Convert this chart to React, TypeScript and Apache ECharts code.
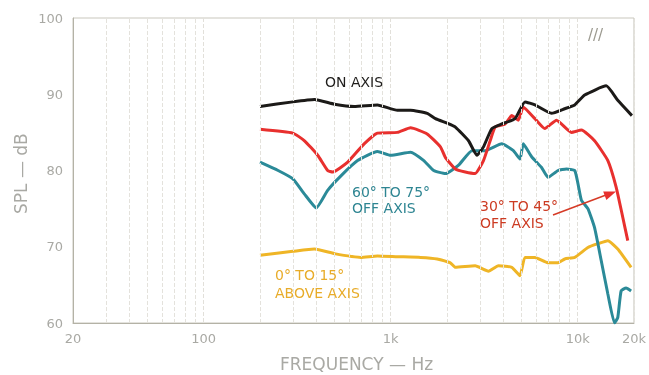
import React, { useEffect, useRef } from "react";
import * as echarts from "echarts";

// ---- data (Hz, dB) ----
const onAxisFreq = [200, 300, 391, 500, 638, 849, 1086, 1277, 1567, 1735, 2004, 2218, 2608, 2891, 3135, 3475, 3928, 4624, 5224, 5906, 7245, 8529, 9640, 10900, 14210, 16380, 19500];
const onAxisDb = [88.4, 89.0, 89.3, 88.7, 88.4, 88.6, 87.9, 87.9, 87.5, 86.8, 86.2, 85.7, 83.9, 82.0, 83.1, 85.5, 86.1, 86.8, 89.0, 88.6, 87.5, 88.1, 88.6, 89.9, 91.1, 89.2, 87.2];

const off30Freq = [200, 300, 346, 407, 460, 490, 589, 721, 849, 1086, 1277, 1567, 1845, 1963, 2218, 2506, 2831, 3135, 3404, 3622, 4090, 4440, 4812, 5118, 5906, 6673, 7703, 9260, 10470, 12310, 14500, 16070, 17410, 18530];
const off30Db = [85.4, 84.9, 83.9, 82.0, 80.0, 79.8, 81.1, 83.5, 84.9, 85.0, 85.6, 84.8, 83.1, 81.7, 80.2, 79.8, 79.6, 81.3, 83.9, 85.7, 86.1, 87.2, 86.6, 88.3, 86.8, 85.5, 86.6, 85.0, 85.3, 83.9, 81.3, 77.8, 73.9, 70.8];

const off60Freq = [200, 250, 300, 346, 400, 460, 542, 665, 849, 1000, 1277, 1504, 1699, 1963, 2308, 2721, 3200, 3928, 4530, 4914, 5118, 5672, 6411, 6950, 7860, 8704, 9640, 10050, 10470, 11340, 12310, 13360, 14500, 15730, 16380, 17070, 18150, 19310];
const off60Db = [81.1, 80.0, 78.9, 76.9, 75.1, 77.4, 79.3, 81.3, 82.5, 82.0, 82.4, 81.3, 80.0, 79.6, 80.7, 82.6, 82.6, 83.5, 82.6, 81.5, 83.5, 81.8, 80.4, 79.1, 80.0, 80.2, 80.0, 78.2, 76.1, 75.0, 72.5, 68.2, 63.8, 60.0, 60.7, 64.2, 64.6, 64.2];

const aboveFreq = [200, 300, 391, 500, 692, 849, 1086, 1445, 1772, 2085, 2218, 2831, 3334, 3769, 4440, 4914, 5224, 5906, 6950, 7860, 8529, 9640, 11340, 12820, 14500, 16380, 19310];
const aboveDb = [68.9, 69.4, 69.7, 69.1, 68.6, 68.8, 68.7, 68.6, 68.4, 67.9, 67.3, 67.5, 66.8, 67.5, 67.3, 66.2, 68.6, 68.6, 67.9, 67.9, 68.4, 68.6, 69.9, 70.4, 70.8, 69.7, 67.3];

const xTickLabels: Record<number, string> = { 20: "20", 100: "100", 1000: "1k", 10000: "10k", 20000: "20k" };
const yTicks = [60, 70, 80, 90, 100];
const gridFreqs = [30, 40, 50, 60, 70, 80, 90, 200, 300, 400, 500, 600, 700, 800, 900, 2000, 3000, 4000, 5000, 6000, 7000, 8000, 9000];

const FONT = '"DejaVu Sans", "Noto Sans", sans-serif';

const pairs = (f: number[], v: number[]) => f.map((x, i) => [x, v[i]]);

export default function App() {
  const ref = useRef<HTMLDivElement>(null);
  useEffect(() => {
    if (!ref.current) return;
    const chart = echarts.init(ref.current, null, { renderer: "svg" });
    const lineSeries = (name: string, data: number[][], color: string) => ({
      name,
      type: "line",
      data,
      showSymbol: false,
      smooth: 0.15,
      lineStyle: { color, width: 3 },
      z: 3,
    });
    const txt = (x: number, y: number, text: string, color: string, size = 14, extra: any = {}) => ({
      type: "text",
      x,
      y,
      style: { text, fill: color, font: `${size}px ${FONT}`, ...extra },
      z: 10,
    });
    chart.setOption({
      animation: false,
      grid: { left: 73, right: 11, top: 18, bottom: 52, show: true, borderColor: "#c9c7bd", borderWidth: 1 },
      xAxis: {
        type: "log",
        logBase: 10,
        min: 20,
        max: 20000,
        axisLine: { show: true, lineStyle: { color: "#b4b2a6", width: 1 } },
        axisTick: { show: false },
        splitLine: { show: true, lineStyle: { color: "#e2e0da", type: "dashed", width: 1 } },
        axisLabel: {
          color: "#a9a9a4",
          fontSize: 13,
          fontFamily: FONT,
          margin: 9,
          showMinLabel: true,
          showMaxLabel: true,
          formatter: (v: number) => xTickLabels[Math.round(v)] ?? "",
        },
      },
      yAxis: {
        type: "value",
        min: yTicks[0],
        max: yTicks[yTicks.length - 1],
        interval: 10,
        axisLine: { show: true, lineStyle: { color: "#b4b2a6", width: 1 } },
        axisTick: { show: false },
        splitLine: { show: false },
        axisLabel: { color: "#a9a9a4", fontSize: 13, fontFamily: FONT, margin: 10 },
      },
      series: [
        {
          type: "line",
          data: [],
          silent: true,
          markLine: {
            silent: true,
            symbol: "none",
            label: { show: false },
            lineStyle: { color: "#e4e2dc", type: "dashed", width: 1 },
            data: gridFreqs.map((f) => ({ xAxis: f })),
          },
        },
        lineSeries("0° to 15° above axis", pairs(aboveFreq, aboveDb), "#efb526"),
        lineSeries("60° to 75° off axis", pairs(off60Freq, off60Db), "#2b8a98"),
        lineSeries("30° to 45° off axis", pairs(off30Freq, off30Db), "#e8302e"),
        lineSeries("On axis", pairs(onAxisFreq, onAxisDb), "#1c1a18"),
      ],
      graphic: [
        txt(325, 75, "ON AXIS", "#1f1d1b", 14),
        txt(352, 185, "60° TO 75°", "#2e8592", 14),
        txt(352, 201, "OFF AXIS", "#2e8592", 14),
        txt(480, 199, "30° TO 45°", "#cc3b22", 14),
        txt(480, 216, "OFF AXIS", "#cc3b22", 14),
        txt(275, 268, "0° TO 15°", "#e8ac2a", 14),
        txt(275, 286, "ABOVE AXIS", "#e8ac2a", 14),
        txt(588, 27, "///", "#9a988e", 15, { fontStyle: "italic" }),
        {
          type: "line",
          shape: { x1: 553, y1: 215, x2: 606, y2: 195 },
          style: { stroke: "#d63a26", lineWidth: 1.5 },
          z: 10,
        },
        {
          type: "polygon",
          shape: { points: [[616, 191.5], [606.4, 199.9], [603.2, 191.5]] },
          style: { fill: "#e8302e" },
          z: 10,
        },
        {
          type: "text",
          x: 12,
          y: 214,
          rotation: Math.PI / 2,
          style: { text: "SPL — dB", fill: "#a9a9a4", font: `17px ${FONT}` },
          z: 10,
        },
        txt(280, 355, "FREQUENCY — Hz", "#a9a9a4", 17),
      ],
    });
    return () => chart.dispose();
  }, []);
  return <div ref={ref} style={{ position: "fixed", left: 0, top: 0, width: 649, height: 375 }} />;
}
